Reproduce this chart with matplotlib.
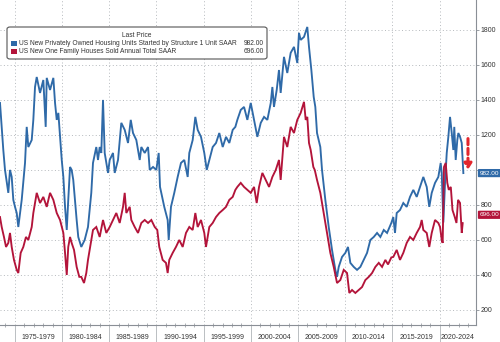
import matplotlib
matplotlib.use("Agg")
import matplotlib.pyplot as plt
from matplotlib.patches import FancyBboxPatch, Rectangle
import matplotlib.transforms as mtransforms

plt.rcParams['font.family'] = ['Liberation Sans', 'DejaVu Sans']

# US single-family housing starts (thousands, SAAR)
starts_t = [1973.43, 1973.78, 1973.96, 1974.31, 1974.49, 1974.67, 1974.84, 1975.02, 1975.20, 1975.37,
            1975.73, 1976.08, 1976.26, 1976.43, 1976.79, 1976.96, 1977.14, 1977.32, 1977.67, 1978.02,
            1978.27, 1978.38, 1978.73, 1979.08, 1979.26, 1979.44, 1979.61, 1979.79, 1979.97, 1980.14,
            1980.32, 1980.50, 1980.66, 1980.85, 1981.02, 1981.19, 1981.37, 1981.55, 1981.72, 1982.04,
            1982.40, 1982.75, 1983.10, 1983.28, 1983.63, 1983.81, 1983.99, 1984.16, 1984.34, 1984.52,
            1984.87, 1985.05, 1985.40, 1985.58, 1985.93, 1986.28, 1986.64, 1986.99, 1987.28, 1987.52,
            1987.87, 1988.23, 1988.40, 1988.76, 1989.11, 1989.29, 1989.64, 1989.99, 1990.24, 1990.38,
            1990.83, 1991.19, 1991.30, 1991.54, 1991.89, 1992.25, 1992.60, 1992.95, 1993.31, 1993.48,
            1993.84, 1994.12, 1994.37, 1994.72, 1995.07, 1995.33, 1995.60, 1995.96, 1996.31, 1996.66,
            1997.02, 1997.37, 1997.72, 1998.08, 1998.36, 1998.57, 1998.93, 1999.28, 1999.63, 1999.99,
            2000.34, 2000.69, 2001.05, 2001.40, 2001.75, 2002.11, 2002.28, 2002.45, 2002.74, 2002.98,
            2003.16, 2003.51, 2003.86, 2004.22, 2004.57, 2004.92, 2005.10, 2005.28, 2005.63, 2005.98,
            2006.16, 2006.41, 2006.66, 2006.83, 2007.01, 2007.19, 2007.36, 2007.54, 2007.89, 2008.25,
            2008.60, 2008.95, 2009.13, 2009.31, 2009.66, 2010.01, 2010.29, 2010.54, 2010.90, 2011.25,
            2011.60, 2011.96, 2012.31, 2012.66, 2013.02, 2013.37, 2013.72, 2014.08, 2014.43, 2014.88,
            2015.09, 2015.27, 2015.45, 2015.80, 2016.15, 2016.51, 2016.86, 2017.21, 2017.57, 2017.92,
            2018.27, 2018.63, 2018.90, 2019.16, 2019.51, 2019.86, 2020.11, 2020.22, 2020.39, 2020.57,
            2020.75, 2020.92, 2021.10, 2021.28, 2021.45, 2021.55, 2021.70, 2021.87, 2021.98, 2022.16,
            2022.34, 2022.51]
starts_v = [1383, 1114, 1000, 869, 1000, 960, 829, 789, 754, 674,
            829, 1040, 1246, 1131, 1171, 1286, 1474, 1531, 1440, 1514,
            1246, 1526, 1457, 1526, 1383, 1286, 1326, 1189, 1057, 960,
            789, 657, 829, 1017, 1000, 943, 829, 714, 617, 560,
            600, 674, 869, 1040, 1131, 1057, 1131, 1097, 1400, 1097,
            983, 1057, 1097, 983, 1057, 1269, 1229, 1154, 1286, 1211,
            1171, 1057, 1131, 1097, 1131, 1000, 1017, 1000, 1097, 903,
            789, 714, 600, 789, 869, 960, 1040, 1057, 960, 1097,
            1171, 1303, 1229, 1189, 1097, 1000, 1057, 1131, 1154, 1211,
            1131, 1189, 1154, 1229, 1246, 1286, 1343, 1360, 1286, 1383,
            1286, 1189, 1269, 1303, 1286, 1383, 1474, 1360, 1457, 1571,
            1440, 1646, 1554, 1669, 1703, 1611, 1783, 1743, 1760, 1817,
            1703, 1571, 1417, 1360, 1211, 1171, 1131, 1000, 829, 674,
            543, 429, 389, 446, 503, 526, 560, 469, 446, 429,
            446, 486, 526, 600, 617, 640, 617, 657, 640, 697,
            731, 640, 754, 771, 811, 789, 846, 886, 846, 903,
            960, 903, 789, 869, 926, 960, 1040, 983, 700, 926,
            1097, 1189, 1303, 1211, 1114, 1246, 1057, 1171, 1211, 1189,
            1154, 982]

# US new one-family houses sold (thousands, SAAR)
sales_t = [1973.43, 1973.61, 1973.85, 1974.07, 1974.31, 1974.49, 1974.67, 1974.91, 1975.20, 1975.37,
           1975.62, 1975.90, 1976.18, 1976.43, 1976.79, 1976.96, 1977.32, 1977.67, 1978.02, 1978.38,
           1978.73, 1979.08, 1979.44, 1979.79, 1980.14, 1980.32, 1980.50, 1980.66, 1980.85, 1981.02,
           1981.27, 1981.55, 1981.83, 1982.04, 1982.33, 1982.57, 1982.75, 1983.10, 1983.28, 1983.63,
           1983.99, 1984.34, 1984.69, 1985.05, 1985.40, 1985.75, 1986.11, 1986.46, 1986.64, 1986.81,
           1987.17, 1987.34, 1987.70, 1988.05, 1988.40, 1988.76, 1989.11, 1989.46, 1989.82, 1990.09,
           1990.30, 1990.66, 1991.01, 1991.19, 1991.36, 1991.72, 1992.07, 1992.42, 1992.78, 1993.13,
           1993.48, 1993.84, 1994.12, 1994.37, 1994.72, 1995.07, 1995.25, 1995.60, 1995.96, 1996.31,
           1996.66, 1997.02, 1997.37, 1997.72, 1998.08, 1998.36, 1998.57, 1998.93, 1999.28, 1999.63,
           1999.99, 2000.34, 2000.62, 2000.87, 2001.22, 2001.58, 2001.93, 2002.28, 2002.64, 2002.98,
           2003.16, 2003.51, 2003.86, 2004.22, 2004.57, 2004.92, 2005.28, 2005.63, 2005.81, 2005.98,
           2006.16, 2006.34, 2006.62, 2006.77, 2007.01, 2007.36, 2007.72, 2008.07, 2008.42, 2008.78,
           2009.13, 2009.48, 2009.84, 2010.19, 2010.43, 2010.72, 2011.07, 2011.43, 2011.78, 2012.13,
           2012.49, 2012.84, 2013.19, 2013.55, 2013.90, 2014.25, 2014.53, 2014.88, 2015.09, 2015.45,
           2015.80, 2016.15, 2016.51, 2016.86, 2017.21, 2017.57, 2017.92, 2018.10, 2018.27, 2018.63,
           2018.90, 2019.16, 2019.51, 2019.86, 2020.04, 2020.22, 2020.32, 2020.46, 2020.64, 2020.81,
           2020.97, 2021.18, 2021.36, 2021.60, 2021.78, 2021.95, 2022.16, 2022.34, 2022.44]
sales_v = [731, 674, 617, 560, 583, 640, 560, 486, 429, 411,
           526, 560, 617, 600, 674, 754, 869, 811, 846, 789,
           869, 829, 754, 714, 640, 526, 400, 560, 617, 583,
           543, 446, 389, 389, 354, 411, 486, 600, 657, 674,
           617, 714, 640, 674, 714, 754, 697, 789, 869, 754,
           789, 714, 674, 640, 697, 714, 697, 714, 674, 657,
           560, 486, 469, 411, 486, 526, 560, 600, 560, 640,
           674, 657, 754, 674, 714, 640, 560, 674, 697, 731,
           754, 771, 789, 829, 846, 886, 903, 926, 903, 886,
           869, 903, 811, 903, 983, 943, 903, 960, 1000, 1057,
           943, 1189, 1131, 1246, 1211, 1286, 1326, 1389, 1286, 1303,
           1154, 1114, 1017, 1000, 943, 869, 754, 640, 526, 446,
           354, 371, 429, 411, 297, 314, 297, 314, 331, 371,
           389, 411, 446, 469, 446, 486, 460, 500, 503, 543,
           486, 526, 583, 617, 600, 640, 674, 714, 657, 640,
           560, 640, 714, 697, 674, 600, 583, 1017, 1040, 926,
           886, 903, 771, 731, 697, 829, 811, 640, 696]

period_starts = [1975, 1980, 1985, 1990, 1995, 2000, 2005, 2010, 2015, 2020]
period_labels = ['1975-1979', '1980-1984', '1985-1989', '1990-1994', '1995-1999',
                 '2000-2004', '2005-2009', '2010-2014', '2015-2019', '2020-2024']
yticks = [200, 400, 600, 800, 1000, 1200, 1400, 1600, 1800]
# 1000 sits under the last-price tag in the original, so its label is not shown
ytick_labels = ['200', '400', '600', '800', '', '1200', '1400', '1600', '1800']

starts_name = 'US New Privately Owned Housing Units Started by Structure 1 Unit SAAR'
sales_name = 'US New One Family Houses Sold Annual Total SAAR'
blue = '#2f6aa8'
red = '#b3143a'
grey = '#8a8f96'
txt = '#333333'

fig = plt.figure(figsize=(5, 3.42), dpi=100)
ax = fig.add_axes([0, 0.0497, 0.952, 0.9503])
xmin, xmax = 1973.43, 2023.85
ax.set_xlim(xmin, xmax)
ax.set_ylim(114, 1971)

ax.plot(starts_t, starts_v, color=blue, lw=1.35, solid_joinstyle='miter')
ax.plot(sales_t, sales_v, color=red, lw=1.35, solid_joinstyle='miter')

# axes look
for s in ['top', 'left']:
    ax.spines[s].set_visible(False)
for s in ['right', 'bottom']:
    ax.spines[s].set_color(grey)
    ax.spines[s].set_linewidth(0.8)

ax.yaxis.tick_right()
ax.set_yticks(yticks)
ax.set_yticklabels(ytick_labels)
ax.tick_params(axis='y', direction='out', length=2, width=0.6, color=grey,
               labelsize=5, labelcolor=txt, pad=1.5)
ax.set_xticks(period_starts)
ax.set_xticklabels([])
ax.set_xticks(range(1974, 2024), minor=True)
ax.tick_params(axis='x', which='major', direction='out', length=12.5, width=0.6, color='#b0b4b8')
ax.tick_params(axis='x', which='minor', direction='inout', length=3, width=0.5, color=grey)
ax.grid(True, which='major', linestyle=(0, (1, 2.5)), color='#b5b9bd', lw=0.7)
ax.set_axisbelow(True)

trans = mtransforms.blended_transform_factory(ax.transData, ax.transAxes)
for start, lab in zip(period_starts, period_labels):
    mid = (start + min(start + 5, xmax)) / 2
    ax.text(mid, -0.038, lab, transform=trans, ha='center', va='center',
            fontsize=5, color=txt, clip_on=False)

# last value tags on the right axis
for val, col, dy in [(starts_v[-1], blue, 0), (sales_v[-1], red, 6)]:
    ax.annotate(f'{val:.2f}', xy=(1, val), xycoords=('axes fraction', 'data'),
                xytext=(2.5, dy), textcoords='offset points', ha='left', va='center',
                fontsize=4.6, color='white', annotation_clip=False, zorder=10,
                bbox=dict(boxstyle='round,pad=0.25,rounding_size=0.15', fc=col, ec='none'))

# red dashed arrow
ax.annotate('', xy=(2023.0, 985), xytext=(2023.0, 1195),
            arrowprops=dict(arrowstyle='-|>,head_width=0.22,head_length=0.35',
                            color='#e3262d', lw=2.2, linestyle=(0, (2, 1.2))))

# legend box in figure pixels
W, H = 500, 342
def fx(px):
    return px / W
def fy(py):
    return 1 - py / H

box = FancyBboxPatch((fx(7), fy(59)), fx(267) - fx(7), fy(27) - fy(59),
                     boxstyle='round,pad=0,rounding_size=0.006', transform=fig.transFigure,
                     fc='white', ec='#555555', lw=0.8, zorder=5)
fig.patches.append(box)
fig.text(fx(137), fy(35.5), 'Last Price', ha='center', va='center', fontsize=4.8, color=txt, zorder=6)
for py, col, name, val in [(43.5, blue, starts_name, starts_v[-1]), (51.5, red, sales_name, sales_v[-1])]:
    fig.patches.append(Rectangle((fx(11), fy(py + 2.8)), fx(17) - fx(11), fy(py - 2.8) - fy(py + 2.8),
                                 transform=fig.transFigure, fc=col, ec='none', zorder=6))
    fig.text(fx(19), fy(py), name, ha='left', va='center', fontsize=4.75, color=txt, zorder=6)
    fig.text(fx(264), fy(py), f'{val:.2f}', ha='right', va='center', fontsize=4.75, color=txt, zorder=6)

fig.savefig('out.png', dpi=100)
